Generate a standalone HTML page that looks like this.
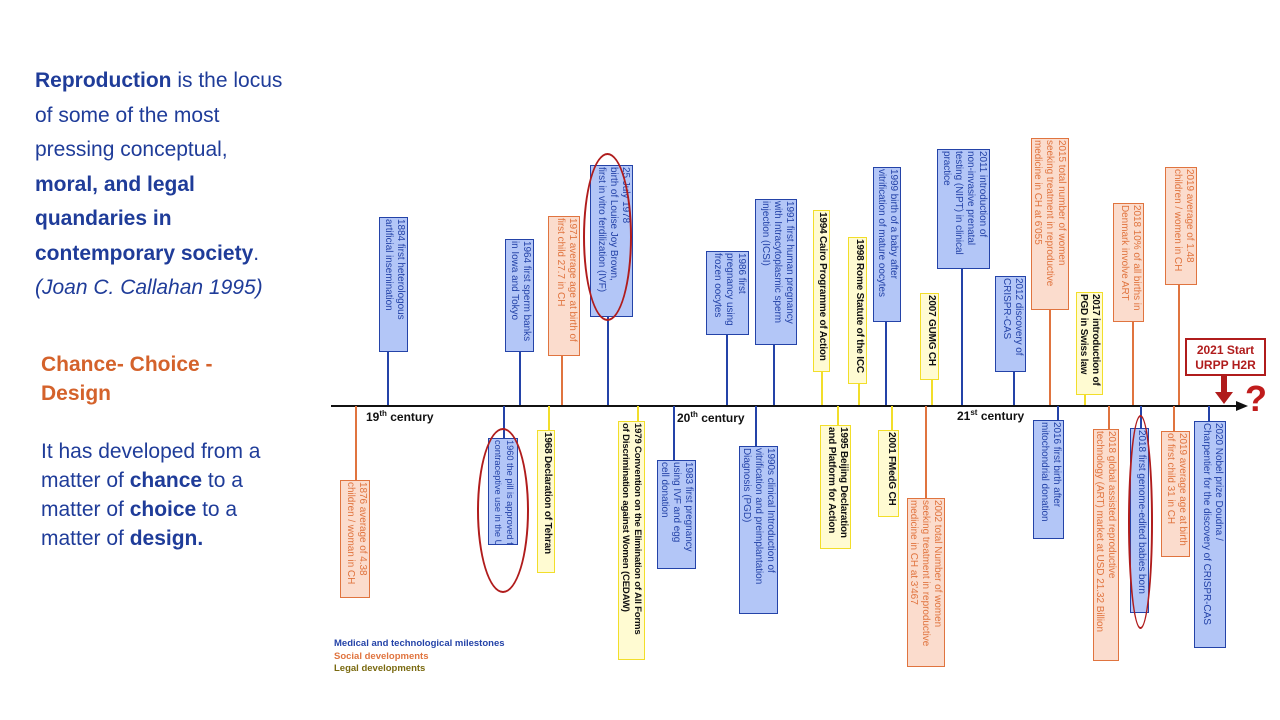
<!DOCTYPE html>
<html><head><meta charset="utf-8"><style>
body{margin:0;width:1280px;height:720px;background:#fff;position:relative;overflow:hidden;font-family:"Liberation Sans",sans-serif}
.t{position:absolute;left:35px;font-size:21px;line-height:34.5px;color:#1f3c99;white-space:nowrap}
.b{position:absolute;box-sizing:border-box;border:1.5px solid;writing-mode:vertical-rl;font-family:"Liberation Sans Narrow","Liberation Sans",sans-serif;font-size:10px;letter-spacing:-0.05px;line-height:12px;padding:1px 1px;overflow:hidden;white-space:nowrap}
.B{background:#b3c6f7;border-color:#2443a8;color:#2443a8}
.O{background:#fbdccd;border-color:#e0743f;color:#e0743f}
.Y{background:#fffbd2;border-color:#f2de2a;color:#111;font-weight:bold;letter-spacing:-0.2px}
.s{position:absolute;width:1.5px}
.sB{background:#2443a8}.sO{background:#e0743f}.sY{background:#f2de2a}
.c{position:absolute;font-size:12px;font-weight:bold;color:#111}
.c sup{font-size:8px}
.e{position:absolute;border:2px solid #b01c1c;border-radius:50%;box-sizing:border-box}
.lg{position:absolute;left:334px;font-size:9.5px;font-weight:bold}
</style></head><body>
<div class="t" style="top:64px"><b>Reproduction</b> is the locus<br>of some of the most<br>pressing conceptual,<br><b>moral, and legal</b><br><b>quandaries in</b><br><b>contemporary society</b>.<br><i>(Joan C. Callahan 1995)</i></div>
<div class="t" style="top:350px;left:41px;color:#d4622b;font-weight:bold;line-height:29px">Chance- Choice -<br>Design</div>
<div class="t" style="top:437px;left:41px;line-height:29px">It has developed from a<br>matter of <b>chance</b> to a<br>matter of <b>choice</b> to a<br>matter of <b>design.</b></div>

<div style="position:absolute;left:331px;top:404.5px;width:910px;height:2px;background:#111"></div>
<svg style="position:absolute;left:1236px;top:399px" width="14" height="14"><polygon points="0,2 12,7 0,12" fill="#111"/></svg>
<div class="c" style="left:366px;top:409px">19<sup>th</sup> century</div>
<div class="c" style="left:677px;top:410px">20<sup>th</sup> century</div>
<div class="c" style="left:957px;top:408px">21<sup>st</sup> century</div>

<div class="s sB" style="left:387px;top:352px;height:53px"></div>
<div class="s sB" style="left:519px;top:352px;height:53px"></div>
<div class="s sO" style="left:561px;top:356px;height:49px"></div>
<div class="s sB" style="left:607px;top:317px;height:88px"></div>
<div class="s sB" style="left:726px;top:335px;height:70px"></div>
<div class="s sB" style="left:773px;top:345px;height:60px"></div>
<div class="s sY" style="left:821px;top:372px;height:33px"></div>
<div class="s sY" style="left:858px;top:384px;height:21px"></div>
<div class="s sB" style="left:885px;top:322px;height:83px"></div>
<div class="s sY" style="left:931px;top:380px;height:25px"></div>
<div class="s sB" style="left:961px;top:269px;height:136px"></div>
<div class="s sB" style="left:1013px;top:372px;height:33px"></div>
<div class="s sO" style="left:1049px;top:310px;height:95px"></div>
<div class="s sY" style="left:1084px;top:395px;height:10px"></div>
<div class="s sO" style="left:1132px;top:322px;height:83px"></div>
<div class="s sO" style="left:1178px;top:285px;height:120px"></div>
<div class="s sO" style="left:355px;top:406px;height:74px"></div>
<div class="s sB" style="left:503px;top:406px;height:32px"></div>
<div class="s sY" style="left:548px;top:406px;height:24px"></div>
<div class="s sY" style="left:637px;top:406px;height:15px"></div>
<div class="s sB" style="left:673px;top:406px;height:54px"></div>
<div class="s sB" style="left:755px;top:406px;height:40px"></div>
<div class="s sY" style="left:837px;top:406px;height:19px"></div>
<div class="s sY" style="left:891px;top:406px;height:24px"></div>
<div class="s sO" style="left:925px;top:406px;height:92px"></div>
<div class="s sB" style="left:1057px;top:406px;height:14px"></div>
<div class="s sO" style="left:1108px;top:406px;height:23px"></div>
<div class="s sB" style="left:1140px;top:406px;height:22px"></div>
<div class="s sO" style="left:1173px;top:406px;height:25px"></div>
<div class="s sB" style="left:1208px;top:406px;height:15px"></div>

<div class="b B" style="left:379px;top:217px;width:29px;height:135px">1884 first heterologous<br>artificial insemination</div>
<div class="b B" style="left:505px;top:239px;width:29px;height:113px">1964 first sperm banks<br>in Iowa and Tokyo</div>
<div class="b O" style="left:548px;top:216px;width:32px;height:140px">1971 average age at birth of<br>first child 27.7 in CH</div>
<div class="b B" style="left:590px;top:165px;width:43px;height:152px">25 July 1978<br>birth of Louise Joy Brown,<br>first in vitro ferdilization (IVF)</div>
<div class="b B" style="left:706px;top:251px;width:43px;height:84px">1986 first<br>pregnancy using<br>frozen oocytes</div>
<div class="b B" style="left:755px;top:199px;width:42px;height:146px">1991 first human pregnancy<br>with Intracytoplasmic sperm<br>injection (ICSI)</div>
<div class="b Y" style="left:813px;top:210px;width:17px;height:162px">1994 Cairo Programme of Action</div>
<div class="b Y" style="left:848px;top:237px;width:19px;height:147px">1998 Rome Statute of the ICC</div>
<div class="b B" style="left:873px;top:167px;width:28px;height:155px">1999 birth of a baby after<br>vitrification of mature oocytes</div>
<div class="b Y" style="left:920px;top:293px;width:19px;height:87px">2007 GUMG CH</div>
<div class="b B" style="left:937px;top:149px;width:53px;height:120px">2011 introduction of<br>non-invasive prenatal<br>testing (NIPT) in clinical<br>practice</div>
<div class="b B" style="left:995px;top:276px;width:31px;height:96px">2012 discovery of<br>CRISPR-CAS</div>
<div class="b O" style="left:1031px;top:138px;width:38px;height:172px">2015 total number of women<br>seeking treatment in reproductive<br>medicine in CH at 6'055</div>
<div class="b Y" style="left:1076px;top:292px;width:27px;height:103px">2017 introduction of<br>PGD in Swiss law</div>
<div class="b O" style="left:1113px;top:203px;width:31px;height:119px">2018 10% of all births in<br>Denmark involve ART</div>
<div class="b O" style="left:1165px;top:167px;width:32px;height:118px">2019 average of 1.48<br>children / women in CH</div>
<div class="b O" style="left:340px;top:480px;width:30px;height:118px">1876 average of 4.38<br>children / woman in CH</div>
<div class="b B" style="left:488px;top:438px;width:30px;height:107px;font-size:9.3px">1960 the pill is approved for<br>contraceptive use in the US</div>
<div class="b Y" style="left:537px;top:430px;width:18px;height:143px">1968 Declaration of Tehran</div>
<div class="b Y" style="left:618px;top:421px;width:27px;height:239px;font-size:9.6px">1979 Convention on the Elimination of All Forms<br>of Discrimination against Women (CEDAW)</div>
<div class="b B" style="left:657px;top:460px;width:39px;height:109px">1983 first pregnancy<br>using IVF and egg<br>cell donation</div>
<div class="b B" style="left:739px;top:446px;width:39px;height:168px">1990s clinical Introduction of<br>vitrification and preimplantation<br>Diagnosis (PGD)</div>
<div class="b Y" style="left:820px;top:425px;width:31px;height:124px">1995 Beijing Declaration<br>and Platform for Action</div>
<div class="b Y" style="left:878px;top:430px;width:21px;height:87px">2001 FMedG CH</div>
<div class="b O" style="left:907px;top:498px;width:38px;height:169px">2002 total Number of women<br>seeking treatment in reproductive<br>medicine in CH at 3'467</div>
<div class="b B" style="left:1033px;top:420px;width:31px;height:119px">2016 first birth after<br>mitochondrial donation</div>
<div class="b O" style="left:1093px;top:429px;width:26px;height:232px">2018 global assisted reproductive<br>technology (ART) market at USD 21.32 Billion</div>
<div class="b B" style="left:1130px;top:428px;width:19px;height:185px">2018 first genome-edited babies born</div>
<div class="b O" style="left:1161px;top:431px;width:29px;height:126px">2019 average age at birth<br>of first child 31 in CH</div>
<div class="b B" style="left:1194px;top:421px;width:32px;height:227px">2020 Nobel prize Doudna /<br>Charpentier for the discovery of CRISPR-CAS</div>

<div class="e" style="left:583px;top:153px;width:49px;height:168px"></div>
<div class="e" style="left:477px;top:428px;width:52px;height:165px"></div>
<div class="e" style="left:1128px;top:415px;width:25px;height:214px"></div>

<div style="position:absolute;left:1185px;top:338px;width:81px;height:38px;box-sizing:border-box;border:2px solid #b01c1c;color:#b01c1c;font-size:12px;font-weight:bold;text-align:center;line-height:15px;padding-top:3px">2021 Start<br>URPP H2R</div>
<div style="position:absolute;left:1221px;top:376px;width:6px;height:18px;background:#b01c1c"></div>
<svg style="position:absolute;left:1215px;top:392px" width="18" height="12"><polygon points="0,0 18,0 9,12" fill="#b01c1c"/></svg>
<div style="position:absolute;left:1245px;top:378px;font-size:36px;font-weight:bold;color:#c01c1c">?</div>

<div class="lg" style="top:638px;color:#2443a8">Medical and technological milestones</div>
<div class="lg" style="top:651px;color:#e0743f">Social developments</div>
<div class="lg" style="top:663px;color:#7a6a10">Legal developments</div>
</body></html>
